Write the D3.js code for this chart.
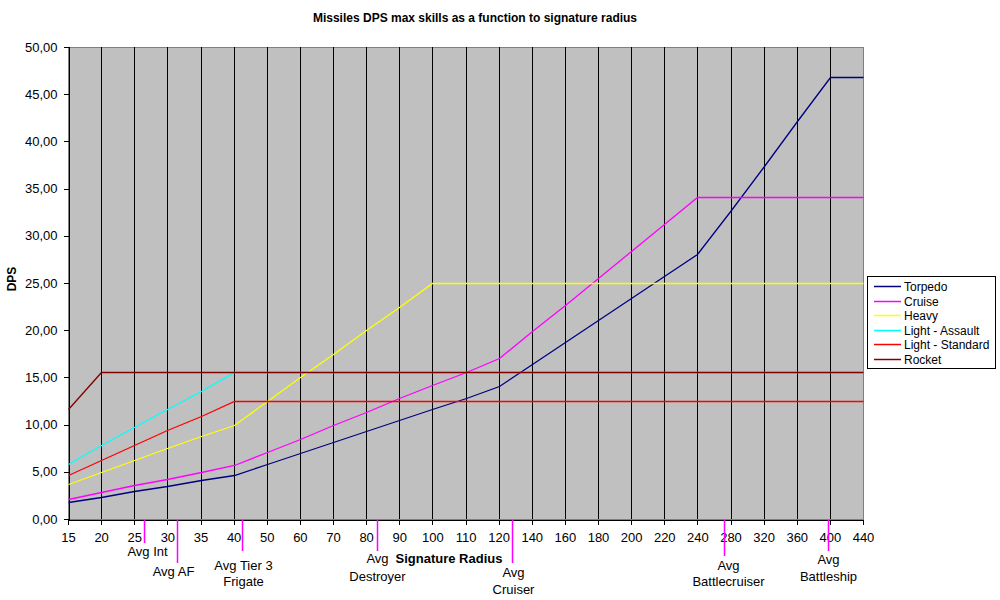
<!DOCTYPE html>
<html>
<head>
<meta charset="utf-8">
<script src="https://cdn.jsdelivr.net/npm/d3@7"></script>
<style>
  html, body { margin: 0; padding: 0; background: #ffffff; }
  svg { display: block; font-family: Arial, "Liberation Sans", sans-serif; }
</style>
</head>
<body>
<svg id="chart" width="1000" height="600"></svg>
<script>
// ---------------- DATA ----------------
const categories = [15,20,25,30,35,40,50,60,70,80,90,100,110,120,140,160,180,200,220,240,280,320,360,400,440];

const torpedo       = [1.78,2.35,2.93,3.51,4.10,4.68,5.85,7.02,8.19,9.36,10.53,11.70,12.87,14.04,16.38,18.72,21.06,23.40,25.74,28.08,32.76,37.44,42.12,46.80,46.80];
const cruise        = [2.13,2.84,3.55,4.26,4.97,5.68,7.10,8.52,9.94,11.36,12.78,14.20,15.62,17.10,19.90,22.72,25.56,28.40,31.24,34.07,34.07,34.07,34.07,34.07,34.07];
const heavy         = [3.73,5.00,6.25,7.50,8.75,10.00,12.50,15.00,17.50,20.00,22.50,25.00,25.00,25.00,25.00,25.00,25.00,25.00,25.00,25.00,25.00,25.00,25.00,25.00,25.00];
const lightAssault  = [5.83,7.80,9.70,11.63,13.56,15.52,15.52,15.52,15.52,15.52,15.52,15.52,15.52,15.52,15.52,15.52,15.52,15.52,15.52,15.52,15.52,15.52,15.52,15.52,15.52];
const lightStandard = [4.66,6.25,7.81,9.38,10.94,12.50,12.50,12.50,12.50,12.50,12.50,12.50,12.50,12.50,12.50,12.50,12.50,12.50,12.50,12.50,12.50,12.50,12.50,12.50,12.50];
const rocket        = [11.67,15.56,15.56,15.56,15.56,15.56,15.56,15.56,15.56,15.56,15.56,15.56,15.56,15.56,15.56,15.56,15.56,15.56,15.56,15.56,15.56,15.56,15.56,15.56,15.56];

const seriesNames  = ["Torpedo","Cruise","Heavy","Light - Assault","Light - Standard","Rocket"];
const seriesValues = [torpedo, cruise, heavy, lightAssault, lightStandard, rocket];
const seriesColors = ["#000080","#FF00FF","#FFFF00","#00FFFF","#FF0000","#800000"];

const yTicks = [0,5,10,15,20,25,30,35,40,45,50];

// average ship signature markers (label lines, signature radius)
const avgLabels = [["Avg Int"],["Avg AF"],["Avg Tier 3","Frigate"],["Avg","Destroyer"],["Avg","Cruiser"],["Avg","Battlecruiser"],["Avg","Battleship"]];
const avgSigs   = [26.5, 31.5, 42.6, 83.3, 128, 272, 398];

const titleText = "Missiles DPS max skills as a function to signature radius";
const xTitle = "Signature Radius";
const yTitle = "DPS";

// ---------------- LAYOUT ----------------
const svg = d3.select("#chart");
const plot = {left: 68, right: 863, top: 47, bottom: 519};

const x = d3.scalePoint().domain(categories).range([plot.left, plot.right]);
const y = d3.scaleLinear().domain([0, 50]).range([plot.bottom, plot.top]);
// piecewise mapping of arbitrary signature radius onto the category axis
const xSig = d3.scaleLinear().domain(categories).range(categories.map(c => x(c)));

// plot area
svg.append("rect")
  .attr("x", plot.left).attr("y", plot.top)
  .attr("width", plot.right - plot.left).attr("height", plot.bottom - plot.top)
  .attr("fill", "#C0C0C0").attr("stroke", "#808080").attr("stroke-width", 1)
  .attr("shape-rendering", "crispEdges");

// vertical gridlines
svg.append("g").selectAll("line")
  .data(categories.slice(1, -1))
  .join("line")
  .attr("x1", d => Math.round(x(d)) + 0.5).attr("x2", d => Math.round(x(d)) + 0.5)
  .attr("y1", plot.top).attr("y2", plot.bottom)
  .attr("stroke", "#000").attr("stroke-width", 1)
  .attr("shape-rendering", "crispEdges");

// axes
const fmt = d => d3.format(".2f")(d).replace(".", ",");
const yAxis = svg.append("g")
  .attr("transform", `translate(${plot.left + 0.5},0)`)
  .call(d3.axisLeft(y).tickValues(yTicks).tickFormat(fmt).tickSize(5).tickPadding(6));
yAxis.select(".domain").attr("stroke", "#000").attr("shape-rendering", "crispEdges");
yAxis.selectAll(".tick line").attr("stroke", "#000").attr("shape-rendering", "crispEdges");
yAxis.selectAll("text").attr("font-size", "13px").attr("fill", "#000")
  .attr("font-family", "Arial, 'Liberation Sans', sans-serif");

const xAxis = svg.append("g")
  .attr("transform", `translate(0,${plot.bottom + 0.5})`)
  .call(d3.axisBottom(x).tickSize(5).tickPadding(8).tickSizeOuter(0));
xAxis.select(".domain").attr("stroke", "#000").attr("shape-rendering", "crispEdges");
xAxis.selectAll(".tick line").attr("stroke", "#000").attr("shape-rendering", "crispEdges");
xAxis.selectAll("text").attr("font-size", "13px").attr("fill", "#000")
  .attr("font-family", "Arial, 'Liberation Sans', sans-serif");

// series lines (snapped to pixel centres for crisp flat segments)
const line = d3.line()
  .x((d, i) => Math.round(x(categories[i])) + 0.5)
  .y(d => Math.round(y(d)) + 0.5);
svg.append("g").selectAll("path")
  .data(seriesValues)
  .join("path")
  .attr("d", d => line(d))
  .attr("fill", "none")
  .attr("stroke", (d, i) => seriesColors[i])
  .attr("stroke-width", 1.3);

// titles
svg.append("text").attr("x", 475).attr("y", 22).attr("text-anchor", "middle")
  .attr("font-size", "12px").attr("font-weight", "bold").text(titleText);
svg.append("text").attr("x", 449).attr("y", 563).attr("text-anchor", "middle")
  .attr("font-size", "13px").attr("font-weight", "bold").text(xTitle);
svg.append("text").attr("transform", "translate(16,279) rotate(-90)").attr("text-anchor", "middle")
  .attr("font-size", "12px").attr("font-weight", "bold").text(yTitle);

// avg markers
const markerLayout = [
  {end: 543, dx: 3,  lines: [556]},
  {end: 563, dx: -4, lines: [576]},
  {end: 551, dx: 1,  lines: [570, 586]},
  {end: 551, dx: 0,  lines: [563, 581]},
  {end: 563, dx: 1,  lines: [577, 594]},
  {end: 556, dx: 4,  lines: [570, 586]},
  {end: 551, dx: 0,  lines: [564, 581]}
];
const mk = svg.append("g");
avgSigs.forEach((s, i) => {
  const px = Math.round(xSig(s)) + 0.5;
  const L = markerLayout[i];
  mk.append("line").attr("x1", px).attr("x2", px).attr("y1", plot.bottom + 1).attr("y2", L.end)
    .attr("stroke", "#FF00FF").attr("stroke-width", 1.5);
  avgLabels[i].forEach((t, j) => {
    mk.append("text").attr("x", px + L.dx).attr("y", L.lines[j]).attr("text-anchor", "middle")
      .attr("font-size", "13px").text(t);
  });
});

// legend
const lg = svg.append("g");
lg.append("rect").attr("x", 867.5).attr("y", 276.5).attr("width", 128).attr("height", 92)
  .attr("fill", "#fff").attr("stroke", "#000").attr("stroke-width", 1);
seriesNames.forEach((n, i) => {
  const cy = Math.round(286 + i * 14.6) + 0.5;
  lg.append("line").attr("x1", 874).attr("x2", 901).attr("y1", cy).attr("y2", cy)
    .attr("stroke", seriesColors[i]).attr("stroke-width", 1.5);
  lg.append("text").attr("x", 904).attr("y", cy + 4.5).attr("font-size", "12px").text(n);
});
</script>
</body>
</html>
